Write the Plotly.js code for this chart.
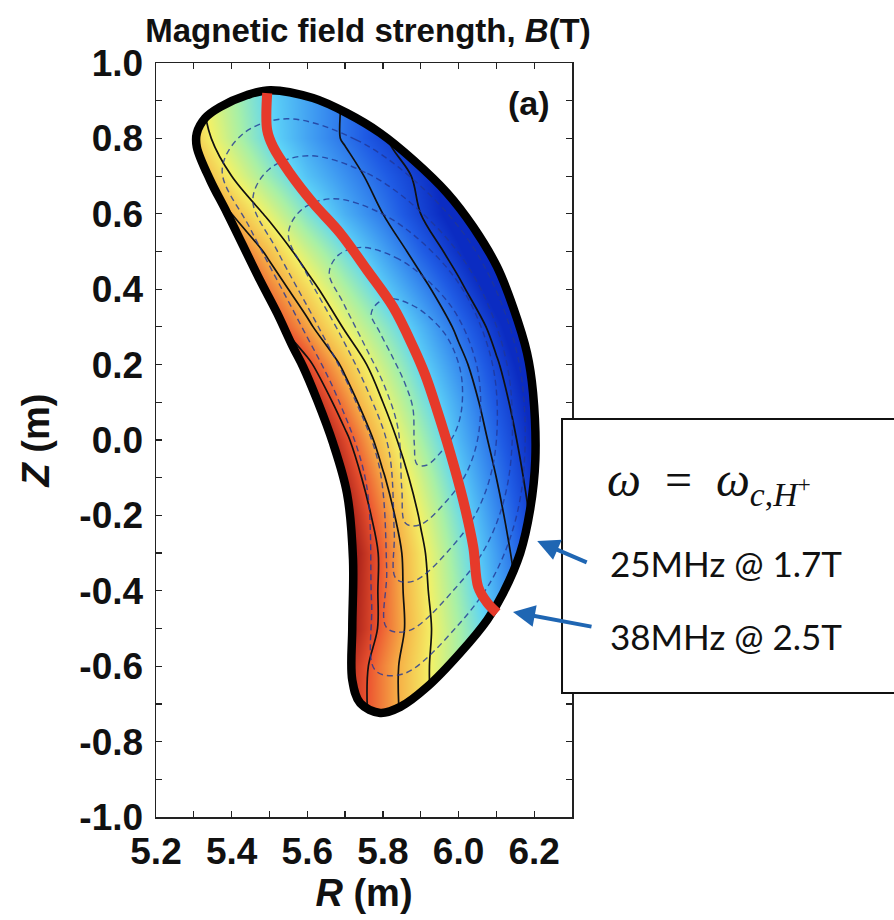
<!DOCTYPE html>
<html>
<head>
<meta charset="utf-8">
<script src="https://cdn.plot.ly/plotly-3.0.1.min.js"></script>
<style>
  html, body { margin: 0; padding: 0; background: #ffffff; }
  #chart { width: 894px; height: 920px; }
</style>
</head>
<body>
<div id="chart"></div>
<script>
// ---------------- data ----------------
const xRange = [5.2, 6.3];
const yRange = [-1.0, 1.0];

const xTickVals = [5.2, 5.3, 5.4, 5.5, 5.6, 5.7, 5.8, 5.9, 6.0, 6.1, 6.2, 6.3];
const xTickText = ['5.2', '', '5.4', '', '5.6', '', '5.8', '', '6.0', '', '6.2', ''];
const yTickVals = [-1.0, -0.9, -0.8, -0.7, -0.6, -0.5, -0.4, -0.3, -0.2, -0.1, 0.0,
                   0.1, 0.2, 0.3, 0.4, 0.5, 0.6, 0.7, 0.8, 0.9, 1.0];
const yTickText = ['-1.0', '', '-0.8', '', '-0.6', '', '-0.4', '', '-0.2', '', '0.0',
                   '', '0.2', '', '0.4', '', '0.6', '', '0.8', '', '1.0'];

// grid of magnetic field strength B(T) estimated from the colours
const R_GRID = [5.2, 5.3, 5.4, 5.5, 5.6, 5.7, 5.8, 5.9, 6.0, 6.1, 6.2, 6.3];
const Z_GRID = [-0.8, -0.7, -0.6, -0.5, -0.4, -0.3, -0.2, -0.1, 0.0, 0.1,
                0.2, 0.3, 0.4, 0.5, 0.6, 0.7, 0.8, 0.9, 1.0];
const B_FIELD = [
  [3.58, 3.46, 3.34, 3.22, 3.10, 2.98, 2.86, 2.74, 2.62, 2.50, 2.38, 2.26],
  [3.57, 3.45, 3.33, 3.21, 3.09, 2.97, 2.85, 2.73, 2.61, 2.49, 2.37, 2.25],
  [3.60, 3.48, 3.35, 3.23, 3.10, 2.98, 2.85, 2.73, 2.60, 2.48, 2.36, 2.24],
  [3.72, 3.58, 3.44, 3.30, 3.16, 3.02, 2.88, 2.74, 2.60, 2.46, 2.32, 2.18],
  [3.78, 3.63, 3.48, 3.33, 3.18, 3.03, 2.88, 2.73, 2.58, 2.43, 2.28, 2.13],
  [3.84, 3.68, 3.52, 3.36, 3.20, 3.04, 2.88, 2.72, 2.56, 2.41, 2.25, 2.10],
  [3.81, 3.65, 3.49, 3.33, 3.17, 3.01, 2.85, 2.69, 2.53, 2.38, 2.23, 2.08],
  [3.77, 3.61, 3.45, 3.29, 3.13, 2.97, 2.81, 2.65, 2.49, 2.35, 2.21, 2.07],
  [3.72, 3.56, 3.40, 3.24, 3.08, 2.92, 2.76, 2.60, 2.45, 2.32, 2.19, 2.06],
  [3.60, 3.45, 3.30, 3.15, 3.00, 2.85, 2.70, 2.55, 2.42, 2.29, 2.17, 2.04],
  [3.48, 3.34, 3.20, 3.06, 2.92, 2.78, 2.64, 2.50, 2.38, 2.26, 2.14, 2.02],
  [3.32, 3.19, 3.07, 2.94, 2.82, 2.69, 2.57, 2.45, 2.33, 2.22, 2.10, 1.99],
  [3.24, 3.11, 2.99, 2.86, 2.74, 2.61, 2.49, 2.38, 2.27, 2.16, 2.05, 1.94],
  [3.15, 3.03, 2.90, 2.78, 2.65, 2.53, 2.42, 2.31, 2.21, 2.10, 2.00, 1.89],
  [3.05, 2.93, 2.80, 2.68, 2.55, 2.44, 2.35, 2.25, 2.16, 2.06, 1.97, 1.87],
  [2.95, 2.83, 2.70, 2.58, 2.47, 2.39, 2.31, 2.23, 2.15, 2.07, 1.99, 1.91],
  [2.88, 2.76, 2.63, 2.51, 2.42, 2.34, 2.26, 2.18, 2.10, 2.02, 1.94, 1.86],
  [2.85, 2.73, 2.61, 2.50, 2.42, 2.34, 2.26, 2.18, 2.10, 2.02, 1.94, 1.86],
  [2.85, 2.73, 2.61, 2.49, 2.41, 2.33, 2.25, 2.17, 2.09, 2.01, 1.93, 1.85]
];

// last closed flux surface (plasma boundary)
const boundaryR = [5.502, 5.615, 5.705, 5.793, 5.880, 5.970, 6.039, 6.102, 6.144, 6.181,
                   6.197, 6.203, 6.189, 6.163, 6.118, 6.076, 6.004, 5.917, 5.846, 5.793,
                   5.740, 5.719, 5.719, 5.721, 5.705, 5.668, 5.626, 5.589, 5.562, 5.520,
                   5.475, 5.388, 5.343, 5.308, 5.308, 5.330, 5.369, 5.441];
const boundaryZ = [0.928, 0.907, 0.867, 0.814, 0.743, 0.655, 0.565, 0.459, 0.353, 0.231,
                   0.125, -0.053, -0.186, -0.300, -0.406, -0.477, -0.565, -0.655, -0.708, -0.724,
                   -0.698, -0.637, -0.496, -0.318, -0.141, -0.008, 0.106, 0.194, 0.247, 0.337,
                   0.424, 0.602, 0.690, 0.777, 0.814, 0.854, 0.883, 0.915];

// ion cyclotron resonance layer (red line)
const resonanceR = [5.494, 5.494, 5.510, 5.554, 5.615, 5.687, 5.758, 5.827, 5.880,
                    5.912, 5.943, 5.978, 6.012, 6.039, 6.052, 6.076, 6.102];
const resonanceZ = [0.920, 0.822, 0.777, 0.708, 0.629, 0.549, 0.451, 0.353, 0.247,
                    0.172, 0.080, -0.034, -0.159, -0.284, -0.390, -0.432, -0.459];

// nested flux surfaces (dashed)
const flux1R = [5.546, 5.728, 5.886, 6.029, 6.124, 6.171, 6.164, 6.100, 5.998, 5.855, 5.780, 5.770, 5.755, 5.680, 5.575, 5.450, 5.375, 5.430];
const flux1Z = [0.852, 0.797, 0.686, 0.526, 0.335, 0.129, -0.150, -0.348, -0.492, -0.620, -0.611, -0.429, -0.110, 0.112, 0.320, 0.559, 0.716, 0.812];
const flux2R = [5.603, 5.759, 5.894, 6.016, 6.097, 6.138, 6.132, 6.077, 5.989, 5.868, 5.810, 5.810, 5.790, 5.720, 5.630, 5.520, 5.456, 5.500];
const flux2Z = [0.754, 0.707, 0.611, 0.474, 0.311, 0.135, -0.104, -0.274, -0.396, -0.506, -0.498, -0.343, -0.069, 0.121, 0.299, 0.503, 0.637, 0.719];
const flux3R = [5.668, 5.794, 5.903, 6.001, 6.066, 6.099, 6.094, 6.050, 5.980, 5.882, 5.835, 5.830, 5.815, 5.760, 5.690, 5.600, 5.550, 5.586];
const flux3Z = [0.640, 0.602, 0.525, 0.415, 0.283, 0.142, -0.051, -0.187, -0.286, -0.374, -0.368, -0.243, -0.023, 0.130, 0.274, 0.438, 0.546, 0.612];
const flux4R = [5.743, 5.834, 5.913, 5.985, 6.032, 6.056, 6.052, 6.020, 5.969, 5.898, 5.860, 5.850, 5.840, 5.805, 5.755, 5.695, 5.658, 5.683];
const flux4Z = [0.511, 0.484, 0.428, 0.348, 0.252, 0.150, 0.010, -0.089, -0.161, -0.225, -0.221, -0.130, 0.030, 0.141, 0.245, 0.364, 0.443, 0.491];
const flux5R = [5.822, 5.877, 5.924, 5.967, 5.995, 6.009, 6.007, 5.988, 5.957, 5.915, 5.890, 5.883, 5.879, 5.857, 5.828, 5.791, 5.769, 5.786];
const flux5Z = [0.375, 0.358, 0.325, 0.277, 0.219, 0.158, 0.074, 0.014, -0.028, -0.067, -0.064, -0.010, 0.086, 0.153, 0.215, 0.287, 0.334, 0.363];

// arrow targets on the plasma edge
const arrowTipR = [6.208, 6.144];
const arrowTipZ = [-0.268, -0.456];
const boxLines = ['25MHz @ 1.7T', '38MHz @ 2.5T'];

// ---------------- figure ----------------
const closeLoop = (a) => a.concat([a[0]]);

const jet = [
  [0.000, '#0b2cc2'],
  [0.125, '#1f5be4'],
  [0.250, '#3d97f1'],
  [0.375, '#5ed5f7'],
  [0.500, '#a8f0a6'],
  [0.625, '#f3f166'],
  [0.750, '#f6b247'],
  [0.875, '#ec5330'],
  [1.000, '#a21c17']
];

const traces = [];

traces.push({
  type: 'heatmap', x: R_GRID, y: Z_GRID, z: B_FIELD,
  zmin: 2.2, zmax: 3.0, zsmooth: 'best', colorscale: jet,
  showscale: false, hoverinfo: 'skip'
});

const contourCommon = {
  type: 'contour', x: R_GRID, y: Z_GRID, z: B_FIELD,
  autocontour: false, showscale: false, hoverinfo: 'skip',
  line: { color: '#111111', width: 1.7, smoothing: 1 }
};
traces.push(Object.assign({}, contourCommon, {
  contours: { coloring: 'none', start: 2.25, end: 2.35, size: 0.1 }
}));
traces.push(Object.assign({}, contourCommon, {
  contours: { coloring: 'none', start: 2.7, end: 3.0, size: 0.1 }
}));

[[flux1R, flux1Z], [flux2R, flux2Z], [flux3R, flux3Z], [flux4R, flux4Z], [flux5R, flux5Z]]
  .forEach(([r, z]) => {
    traces.push({
      type: 'scatter', mode: 'lines', x: closeLoop(r), y: closeLoop(z),
      line: { color: 'rgba(32,55,150,0.8)', width: 1.4, dash: '6px,4px', shape: 'spline' },
      hoverinfo: 'skip', showlegend: false
    });
  });

// white mask outside the plasma boundary (outer frame + boundary hole)
const pad = 0.3;
const maskR = [xRange[0] - pad, xRange[1] + pad, xRange[1] + pad, xRange[0] - pad, xRange[0] - pad, null]
  .concat(closeLoop(boundaryR));
const maskZ = [yRange[0] - pad, yRange[0] - pad, yRange[1] + pad, yRange[1] + pad, yRange[0] - pad, null]
  .concat(closeLoop(boundaryZ));
traces.push({
  type: 'scatter', mode: 'lines', x: maskR, y: maskZ, fill: 'toself',
  fillcolor: '#ffffff', line: { width: 0, color: '#ffffff' },
  connectgaps: false, hoverinfo: 'skip', showlegend: false
});

traces.push({
  type: 'scatter', mode: 'lines', x: closeLoop(boundaryR), y: closeLoop(boundaryZ),
  line: { color: '#000000', width: 8.5, shape: 'spline' },
  hoverinfo: 'skip', showlegend: false
});

traces.push({
  type: 'scatter', mode: 'lines', x: resonanceR, y: resonanceZ,
  line: { color: '#e63a2a', width: 10, shape: 'spline' },
  hoverinfo: 'skip', showlegend: false
});

const boldFont = (size) => ({ family: 'Liberation Sans, Arial, sans-serif', size: size, weight: 'bold', color: '#111111' });
const axisCommon = {
  showgrid: false, zeroline: false, showline: true, mirror: 'allticks',
  linecolor: '#222222', linewidth: 1.5,
  ticks: 'inside', ticklen: 6, tickwidth: 1.2, tickcolor: '#222222',
  tickmode: 'array', tickfont: boldFont(37), fixedrange: true
};

const layout = {
  width: 894, height: 920,
  margin: { l: 156, r: 322, t: 63, b: 103, pad: 0 },
  paper_bgcolor: '#ffffff', plot_bgcolor: '#ffffff',
  showlegend: false,
  title: {
    text: 'Magnetic field strength, <i>B</i>(T)',
    font: boldFont(33),
    xref: 'container', yref: 'container', x: 368 / 894, xanchor: 'center',
    y: 1 - 30 / 920, yanchor: 'middle'
  },
  xaxis: Object.assign({}, axisCommon, {
    range: xRange, tickvals: xTickVals, ticktext: xTickText, ticklabelstandoff: 1,
    title: { text: '<i>R</i> (m)', standoff: 8, font: boldFont(38) }
  }),
  yaxis: Object.assign({}, axisCommon, {
    range: yRange, tickvals: yTickVals, ticktext: yTickText, ticklabelstandoff: 4,
    title: { text: '<i>Z</i> (m)', standoff: 18, font: boldFont(38) }
  }),
  shapes: [{
    type: 'rect', xref: 'paper', yref: 'paper',
    x0: 0.976, x1: 1.9, y0: 0.1645, y1: 0.528,
    line: { color: '#111111', width: 2 }, fillcolor: '#ffffff', layer: 'above'
  }],
  annotations: [
    { xref: 'paper', yref: 'paper', x: 0.897, y: 0.947, xanchor: 'center', yanchor: 'middle',
      text: '(a)', showarrow: false, font: boldFont(34) },
    { xref: 'paper', yref: 'paper', x: 1.08, y: 0.443, xanchor: 'left', yanchor: 'middle',
      text: '<i>ω</i>\u2002=\u2002<i>ω</i><sub><i>c</i>,<i>H</i><sup>+</sup></sub>', showarrow: false,
      font: { family: 'Liberation Serif, DejaVu Serif, serif', size: 48, color: '#111111' } },
    { xref: 'paper', yref: 'paper', x: 1.0865, y: 0.337, xanchor: 'left', yanchor: 'middle',
      text: boxLines[0], showarrow: false,
      font: { family: 'Lato, Open Sans, sans-serif', size: 35, color: '#111111' } },
    { xref: 'paper', yref: 'paper', x: 1.0865, y: 0.240, xanchor: 'left', yanchor: 'middle',
      text: boxLines[1], showarrow: false,
      font: { family: 'Lato, Open Sans, sans-serif', size: 35, color: '#111111' } },
    { xref: 'x', yref: 'y', x: arrowTipR[0], y: arrowTipZ[0], text: '', showarrow: true,
      axref: 'pixel', ayref: 'pixel', ax: 51, ay: 22,
      arrowhead: 2, arrowsize: 1.1, arrowwidth: 4, arrowcolor: '#1f66b3' },
    { xref: 'x', yref: 'y', x: arrowTipR[1], y: arrowTipZ[1], text: '', showarrow: true,
      axref: 'pixel', ayref: 'pixel', ax: 80, ay: 15,
      arrowhead: 2, arrowsize: 1.1, arrowwidth: 4, arrowcolor: '#1f66b3' }
  ]
};

Plotly.newPlot('chart', traces, layout, { displayModeBar: false, staticPlot: true });
</script>
</body>
</html>
